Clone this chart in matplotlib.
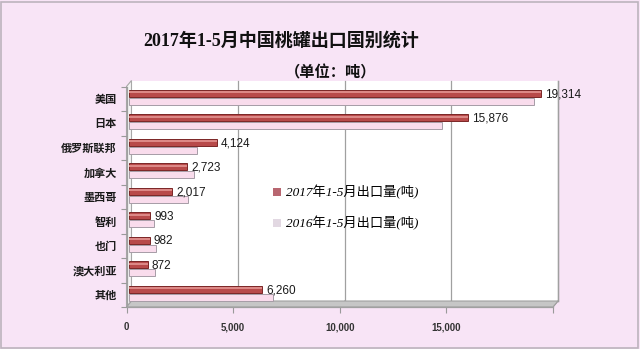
import matplotlib
matplotlib.use("Agg")
import matplotlib.pyplot as plt
from matplotlib.patches import Polygon, Rectangle
from matplotlib.transforms import ScaledTranslation

plt.rcParams['font.family'] = ['Liberation Sans', 'Noto Sans CJK SC', 'DejaVu Sans']

# ---- data ----
countries = ["美国", "日本", "俄罗斯联邦", "加拿大", "墨西哥", "智利", "也门", "澳大利亚", "其他"]
exports_2017 = [19314, 15876, 4124, 2723, 2017, 993, 982, 872, 6260]
exports_2016 = [19000, 14700, 3200, 3050, 2750, 1170, 1260, 1210, 6730]
series_names = ["2017年1-5月出口量(吨)", "2016年1-5月出口量(吨)"]
x_ticks = [0, 5000, 10000, 15000, 20000]
x_tick_labels = ["0", "5,000", "10,000", "15,000", ""]
title = "2017年1-5月中国桃罐出口国别统计"
subtitle = "（单位：吨）"

W, H, DPI = 640, 349, 100
BG = "#F8E4F6"
fig = plt.figure(figsize=(W / DPI, H / DPI), dpi=DPI, facecolor=BG)

# front plane of the pseudo-3D plot, in pixels
x0, x1, y_top, y_bot = 126.5, 553, 86.5, 307
ax = fig.add_axes([x0 / W, 1 - y_bot / H, (x1 - x0) / W, (y_bot - y_top) / H])
ax.set_facecolor("none")
n = len(countries)
ax.set_xlim(0, 20000)
ax.set_ylim(n, 0)
for s in ax.spines.values():
    s.set_visible(False)

# depth of the box (5 px right, 6 px up)
DX = 20000 * 5 / (x1 - x0)
DY = n * 6 / (y_bot - y_top)

# back wall
ax.add_patch(Polygon([(DX, -DY), (20000 + DX, -DY), (20000 + DX, n - DY), (DX, n - DY)],
                     closed=True, facecolor="white", edgecolor="none", zorder=0, clip_on=False))
ax.plot([20000 + DX, 20000 + DX], [-DY, n - DY], color="#A8A8A8", lw=1.0, zorder=1, clip_on=False)
for xv in x_ticks[1:]:
    ax.plot([xv + DX, xv + DX], [-DY, n - DY], color="#A0A0A0", lw=0.9, zorder=1, clip_on=False)
    ax.plot([xv, xv + DX], [n, n - DY], color="#9A9A9A", lw=0.8, zorder=2, clip_on=False)

# left wall
ax.add_patch(Polygon([(0, 0), (DX, -DY), (DX, n - DY), (0, n)], closed=True,
                     facecolor="#F4F4F4", edgecolor="#A8A8A8", lw=0.8, zorder=1, clip_on=False))
# floor
ax.add_patch(Polygon([(0, n), (20000, n), (20000 + DX, n - DY), (DX, n - DY)], closed=True,
                     facecolor="#C6C6C6", edgecolor="#A0A0A0", lw=0.8, zorder=2, clip_on=False))

# bars sit half-way into the depth of the box
bar_trans = ax.transData + ScaledTranslation(2.5 / DPI, 0, fig.dpi_scale_trans)
h = 0.28
y17 = [i + 0.5 - 0.22 for i in range(n)]
y16 = [i + 0.5 + 0.10 for i in range(n)]

b16 = ax.barh(y16, exports_2016, height=h, color="#F9DCEC", edgecolor="#A69CA6",
              lw=0.7, zorder=3, label=series_names[1])
b17 = ax.barh(y17, exports_2017, height=h, color="#B84A4A", edgecolor="#7A2626",
              lw=0.7, zorder=4, label=series_names[0])
hl = ax.barh([y - h * 0.18 for y in y17], exports_2017, height=h * 0.3,
             color="#DC8886", edgecolor="none", zorder=5)
for p in list(b16) + list(b17) + list(hl):
    p.set_transform(bar_trans)
    p.set_clip_on(False)

# value labels for 2017
lab_trans = ax.transData + ScaledTranslation(6.5 / DPI, 0, fig.dpi_scale_trans)
for y, v in zip(y17, exports_2017):
    ax.text(v, y + 0.04, f"{v:,}", ha="left", va="center", fontsize=8.5,
            color="#1A1A1A", transform=lab_trans, zorder=6)

# axes ticks
ax.set_yticks([i + 0.5 for i in range(n)])
ax.set_yticklabels(countries, fontsize=8, fontweight="bold", color="#1A1A1A")
ax.set_yticks(range(n + 1), minor=True)
ax.tick_params(axis="y", which="major", length=0, pad=7)
ax.tick_params(axis="y", which="minor", length=4, color="#9A9A9A", width=0.8)
ax.set_xticks(x_ticks)
ax.set_xticklabels(x_tick_labels, fontsize=7, fontweight="bold", color="#333333")
ax.tick_params(axis="x", length=4, color="#9A9A9A", width=0.8, pad=7)
ax.plot([0, 0], [0, n], color="#A0A0A0", lw=0.9, zorder=2, clip_on=False)
ax.plot([0, 20000], [n, n], color="#A0A0A0", lw=0.9, zorder=2, clip_on=False)

# legend
leg = ax.legend(handles=[b17, b16], loc="upper left",
                bbox_to_anchor=(268 / W, 1 - 180 / H), bbox_transform=fig.transFigure,
                frameon=False, handlelength=0.55, handleheight=0.55, handletextpad=0.4,
                labelspacing=1.25, borderaxespad=0,
                prop={"family": ["Liberation Serif", "Noto Sans CJK SC"],
                      "style": "italic", "size": 9.5})
for hnd in leg.legend_handles:
    hnd.set_edgecolor("none")
leg.legend_handles[1].set_facecolor("#E2D8E2")
leg.legend_handles[0].set_facecolor("#B86670")

# titles
fig.text(281 / W, 1 - 41 / H, title, ha="center", va="center", fontsize=13,
         fontweight="bold", family=["Liberation Serif", "Noto Sans CJK SC"], color="#111111")
fig.text(331 / W, 1 - 73 / H, subtitle, ha="center", va="center", fontsize=11,
         fontweight="bold", family=["Liberation Serif", "Noto Sans CJK SC"], color="#111111")

# outer frame
fig.add_artist(Rectangle((1 / W, 1 / H), (W - 3) / W, (H - 3) / H, transform=fig.transFigure,
                         fill=False, edgecolor="#BDB3BD", lw=1.2))

fig.savefig("out.png", dpi=DPI, facecolor=BG)
